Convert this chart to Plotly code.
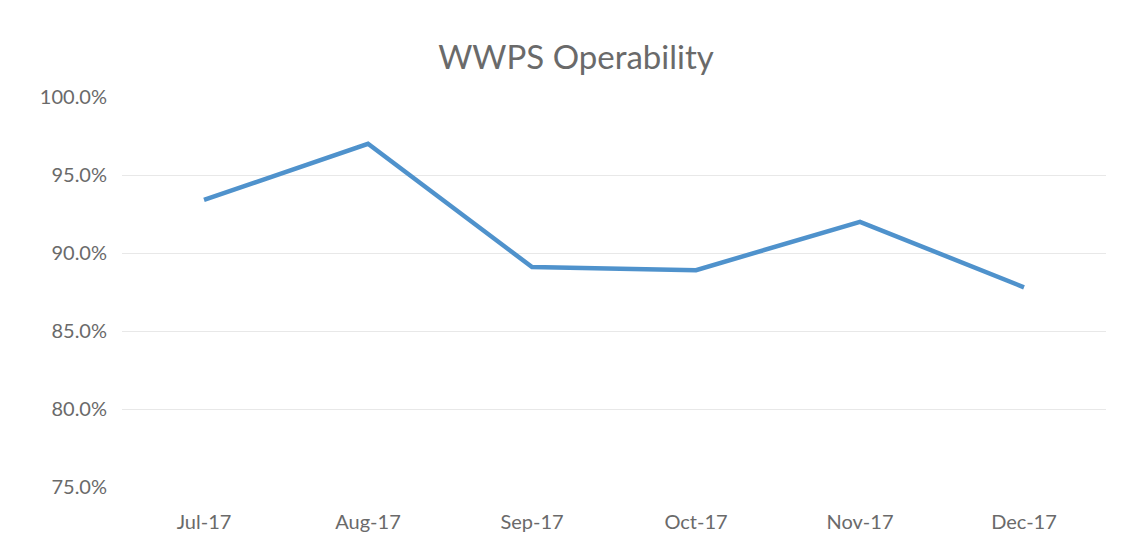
import plotly.graph_objects as go

months = ["Jul-17", "Aug-17", "Sep-17", "Oct-17", "Nov-17", "Dec-17"]
operability = [0.934, 0.970, 0.891, 0.889, 0.920, 0.878]
y_ticks = [0.75, 0.80, 0.85, 0.90, 0.95, 1.00]
title_text = "WWPS Operability"

FONT = "Lato"
GREY = "#6a6a6a"

fig = go.Figure()
fig.add_trace(go.Scatter(
    x=months, y=operability, mode="lines",
    line=dict(color="#4f92cc", width=4.5),
    hoverinfo="skip", showlegend=False,
))

fig.update_layout(
    width=1131, height=550,
    paper_bgcolor="white", plot_bgcolor="white",
    margin=dict(l=114, r=33, t=89, b=71, autoexpand=False),
    title=dict(text=title_text, x=568 / 1131, xanchor="center", xref="container",
               y=1 - 49 / 550, yref="container", yanchor="middle",
               font=dict(family=FONT, size=33, color=GREY)),
    font=dict(family=FONT, color=GREY),
    xaxis=dict(type="category", range=[-0.5, 5.5], showgrid=False, zeroline=False,
               showline=False, ticks="", automargin=False,
               tickfont=dict(size=20, color=GREY), ticklabelstandoff=21),
    yaxis=dict(range=[0.75, 1.0], tickvals=y_ticks, tickformat=".1%",
               showgrid=True, gridcolor="#e8e8e8", gridwidth=1, automargin=False,
               zeroline=False, showline=False, ticks="",
               tickfont=dict(size=20, color=GREY), ticklabelstandoff=14),
)

fig.write_html("out.html")
